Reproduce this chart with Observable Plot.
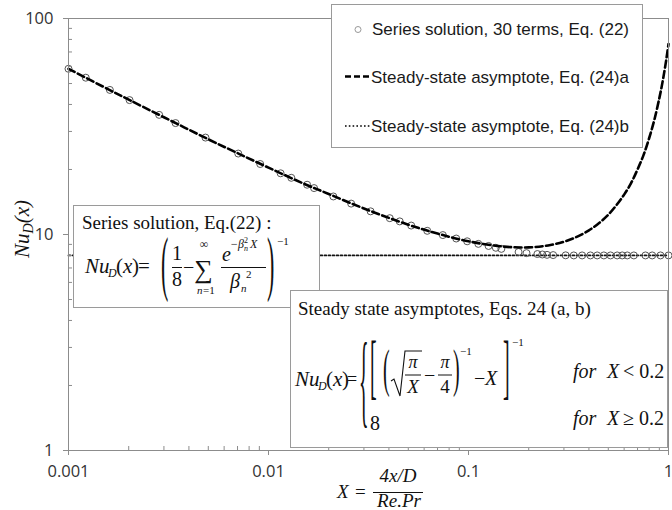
<!DOCTYPE html>
<html><head><meta charset="utf-8">
<script src="https://cdn.jsdelivr.net/npm/d3@7"></script>
<script src="https://cdn.jsdelivr.net/npm/@observablehq/plot@0.6"></script>
<style>
html,body{margin:0;padding:0;background:#fff;}
#wrap{position:relative;width:672px;height:510px;overflow:hidden;background:#fff;}
#wrap svg{position:absolute;left:0;top:0;}
</style></head><body><div id="wrap"></div>
<script>
// ---- data ----
const seriesX = [0.001, 0.00122, 0.00161, 0.00202, 0.00284, 0.00343, 0.00484, 0.00706, 0.00909, 0.0115, 0.0130, 0.0156, 0.0169, 0.0211, 0.0259, 0.0324, 0.0404, 0.0453, 0.0517, 0.0622, 0.0744, 0.0868, 0.0985, 0.112, 0.126, 0.137, 0.146, 0.178, 0.195, 0.221, 0.234, 0.247, 0.265, 0.306, 0.336, 0.370, 0.407, 0.440, 0.475, 0.513, 0.554, 0.587, 0.622, 0.671, 0.767, 0.829, 0.912, 1.0];
const seriesY = [58.5, 53.2, 46.7, 41.9, 35.8, 32.8, 28.1, 23.7, 21.2, 19.2, 18.3, 17.0, 16.4, 15.0, 13.9, 12.8, 11.9, 11.5, 11.0, 10.4, 9.94, 9.58, 9.30, 9.05, 8.85, 8.68, 8.58, 8.30, 8.20, 8.12, 8.08, 8.05, 8.03, 8.01, 8.0, 8.0, 8.0, 8.0, 8.0, 8.0, 8.0, 8.0, 8.0, 8.0, 8.0, 8.0, 8.0, 8.0];
const asymX = [0.001, 0.0015, 0.002, 0.003, 0.005, 0.007, 0.01, 0.015, 0.02, 0.03, 0.05, 0.07, 0.1, 0.15, 0.2, 0.25, 0.3, 0.35, 0.4, 0.45, 0.5, 0.55, 0.6, 0.65, 0.7, 0.75, 0.8, 0.85, 0.9, 0.925, 0.95, 0.975, 1.0];
const asymY = [58.5, 48.2, 42.1, 34.9, 27.6, 23.8, 20.4, 17.2, 15.4, 13.2, 11.1, 10.1, 9.30, 8.79, 8.72, 8.90, 9.26, 9.78, 10.45, 11.3, 12.35, 13.7, 15.3, 17.3, 20.0, 23.3, 27.9, 34.0, 42.8, 48.5, 55.7, 64.6, 76.2];
const limitX = [0.001, 1];
const limitY = [8, 8];
const xMajor = [0.001, 0.01, 0.1, 1];
const xMajorLabels = ["0.001", "0.01", "0.1", "1"];
const xMinor = [0.002,0.003,0.004,0.005,0.006,0.007,0.008,0.009,0.02,0.03,0.04,0.05,0.06,0.07,0.08,0.09,0.2,0.3,0.4,0.5,0.6,0.7,0.8,0.9];
const yMajor = [1, 10, 100];
const yMajorLabels = ["1", "10", "100"];
const yMinor = [2,3,4,5,6,7,8,9,20,30,40,50,60,70,80,90];
const legendLabels = ["Series solution, 30 terms, Eq. (22)", "Steady-state asymptote, Eq. (24)a", "Steady-state asymptote, Eq. (24)b"];

const series = seriesX.map((x, i) => ({x, y: seriesY[i]}));
const asym = asymX.map((x, i) => ({x, y: asymY[i]}));
const limit = limitX.map((x, i) => ({x, y: limitY[i]}));

const axisGray = "#8c8c8c";
const chart = Plot.plot({
  width: 672, height: 510,
  marginLeft: 68, marginRight: 4, marginTop: 18, marginBottom: 60,
  style: {fontFamily: "'Open Sans', sans-serif", fontSize: "16.5px", color: "#333", background: "transparent"},
  x: {type: "log", domain: [0.001, 1]},
  y: {type: "log", domain: [1, 100]},
  marks: [
    Plot.line(limit, {x: "x", y: "y", stroke: "#111", strokeWidth: 1.8, strokeDasharray: "1.8,2.2"}),
    Plot.dot(series, {x: "x", y: "y", r: 3.5, stroke: "#555", strokeWidth: 1, fill: "none"}),
    Plot.line(asym, {x: "x", y: "y", stroke: "#000", strokeWidth: 2.6, strokeDasharray: "7,3.5", curve: "catmull-rom"}),
    Plot.frame({stroke: axisGray}),
    Plot.axisX({ticks: xMinor, tickSize: -4, tickFormat: () => "", stroke: axisGray, label: null}),
    Plot.axisX({ticks: xMajor, tickSize: 5, tickPadding: 10, tickFormat: d => xMajorLabels[xMajor.indexOf(d)], stroke: axisGray, fill: "#333", label: null}),
    Plot.axisY({ticks: yMinor, tickSize: -4, tickFormat: () => "", stroke: axisGray, label: null}),
    Plot.axisY({ticks: yMajor, tickSize: 5, tickPadding: 10, tickFormat: d => yMajorLabels[yMajor.indexOf(d)], stroke: axisGray, fill: "#333", label: null})
  ]
});
document.getElementById("wrap").appendChild(chart);

// ---- overlay: legend, annotation boxes, axis titles ----
const ov = d3.select("#wrap").append("svg").attr("width", 672).attr("height", 510);
const serif = "'Liberation Serif', 'Times New Roman', serif";
const sans = "'Liberation Sans', Arial, sans-serif";
function txt(x, y, s, o = {}) {
  const t = ov.append("text").attr("x", x).attr("y", y).text(s)
    .attr("font-family", o.family || serif).attr("font-size", o.size || 20).attr("fill", o.fill || "#111");
  if (o.italic) t.attr("font-style", "italic");
  if (o.anchor) t.attr("text-anchor", o.anchor);
  return t;
}
function tall(ch, x, top, bottom, fs = 20) {
  const sy = (bottom - top) / (0.86 * fs);
  const y = bottom - 0.18 * fs * sy;
  ov.append("text").attr("transform", `translate(${x},${y}) scale(1,${sy})`)
    .attr("font-family", serif).attr("font-size", fs).attr("fill", "#111").text(ch);
}
function hline(x1, x2, y, w = 1) {
  ov.append("line").attr("x1", x1).attr("x2", x2).attr("y1", y).attr("y2", y).attr("stroke", "#111").attr("stroke-width", w);
}
function box(x, y, w, h) {
  ov.append("rect").attr("x", x).attr("y", y).attr("width", w).attr("height", h).attr("fill", "#fff").attr("stroke", "#9a9a9a").attr("stroke-width", 1);
}

// legend
box(331.5, 4.5, 311, 143);
ov.append("circle").attr("cx", 358).attr("cy", 29.5).attr("r", 3).attr("fill", "none").attr("stroke", "#999");
txt(372, 35, legendLabels[0], {family: sans, size: 17, fill: "#1a1a1a"});
ov.append("line").attr("x1", 345).attr("x2", 370).attr("y1", 76.5).attr("y2", 76.5).attr("stroke", "#000").attr("stroke-width", 2.6).attr("stroke-dasharray", "6,3");
txt(371, 82.5, legendLabels[1], {family: sans, size: 17, fill: "#1a1a1a"});
ov.append("line").attr("x1", 345).attr("x2", 370).attr("y1", 126).attr("y2", 126).attr("stroke", "#000").attr("stroke-width", 1.6).attr("stroke-dasharray", "1.6,2.2");
txt(371, 131.5, legendLabels[2], {family: sans, size: 17, fill: "#1a1a1a"});

// left annotation box: series solution
box(73.5, 205.5, 246, 102);
txt(82, 229, "Series solution, Eq.(22) :", {size: 19});
txt(85, 273, "Nu", {italic: true, size: 21});
txt(108, 277, "D", {italic: true, size: 12});
txt(116, 273, "(", {size: 21});
txt(123, 273, "x", {italic: true, size: 21});
txt(132, 273, ")", {size: 21});
txt(138, 273, "=", {size: 21});
tall("(", 161, 238, 300, 22);
txt(177, 260, "1", {anchor: "middle"});
hline(172, 182, 267.5);
txt(177, 286, "8", {anchor: "middle"});
txt(183, 274, "\u2212");
txt(203.5, 278, "\u2211", {anchor: "middle", size: 26});
txt(204, 248, "\u221e", {anchor: "middle", size: 12});
txt(197, 294, "n", {italic: true, size: 11});
txt(203, 294, "=1", {size: 11});
txt(222, 261, "e", {italic: true});
txt(230, 248, "\u2212\u03b2", {italic: true, size: 12});
txt(244, 251, "n", {italic: true, size: 8});
txt(244, 243, "2", {size: 8});
txt(250, 248, "X", {italic: true, size: 12});
hline(221, 266, 267.5);
txt(230, 288, "\u03b2", {italic: true});
txt(241, 292, "n", {italic: true, size: 11});
txt(246, 278, "2", {size: 11});
tall(")", 267, 238, 300, 22);
txt(277, 245, "\u22121", {size: 11});

// right annotation box: steady state asymptotes
box(290.5, 290.5, 377, 157);
txt(298, 315, "Steady state asymptotes, Eqs. 24 (a, b)", {size: 19});
txt(295, 386, "Nu", {italic: true, size: 21});
txt(318, 390, "D", {italic: true, size: 12});
txt(326, 386, "(", {size: 21});
txt(333, 386, "x", {italic: true, size: 21});
txt(342, 386, ")", {size: 21});
txt(347, 385, "=", {size: 18});
tall("{", 359, 343, 433, 20);
tall("[", 370, 341, 403, 20);
tall("(", 383, 350, 396, 20);
ov.append("path").attr("d", "M391,381 L394,379 L400,396 L405,351 L422,351").attr("fill", "none").attr("stroke", "#111").attr("stroke-width", 1.1);
txt(413, 368, "\u03c0", {anchor: "middle", size: 18, italic: true});
hline(405, 421, 375);
txt(413, 393, "X", {anchor: "middle", size: 19, italic: true});
txt(424, 382, "\u2212");
txt(445, 368, "\u03c0", {anchor: "middle", size: 18, italic: true});
hline(438, 452, 375);
txt(445, 393, "4", {anchor: "middle", size: 19});
tall(")", 453, 350, 396, 20);
txt(460, 355, "\u22121", {size: 11});
txt(474, 385, "\u2212");
txt(485, 385, "X", {italic: true});
tall("]", 503, 341, 403, 20);
txt(512, 346, "\u22121", {size: 11});
txt(370, 430, "8");
txt(573, 378, "for", {italic: true});
txt(607, 378, "X", {italic: true});
txt(623, 378, "< 0.2");
txt(573, 425, "for", {italic: true});
txt(607, 425, "X", {italic: true});
txt(623, 425, "\u2265 0.2");

// y axis title (rotated)
const yl = ov.append("text").attr("transform", "translate(29,229) rotate(-90)").attr("text-anchor", "middle")
  .attr("font-family", serif).attr("font-size", 21).attr("font-style", "italic").attr("fill", "#111");
yl.append("tspan").text("Nu");
yl.append("tspan").attr("font-size", 14).attr("dy", 4).text("D");
yl.append("tspan").attr("dy", -4).text("(x)");

// x axis title
txt(337, 498, "X", {italic: true, size: 19});
txt(355, 498, "=", {size: 19});
txt(398, 482, "4x/D", {italic: true, size: 19, anchor: "middle"});
hline(373, 423, 492.5);
txt(399, 507, "Re.Pr", {italic: true, size: 19, anchor: "middle"});
</script>
</body></html>
